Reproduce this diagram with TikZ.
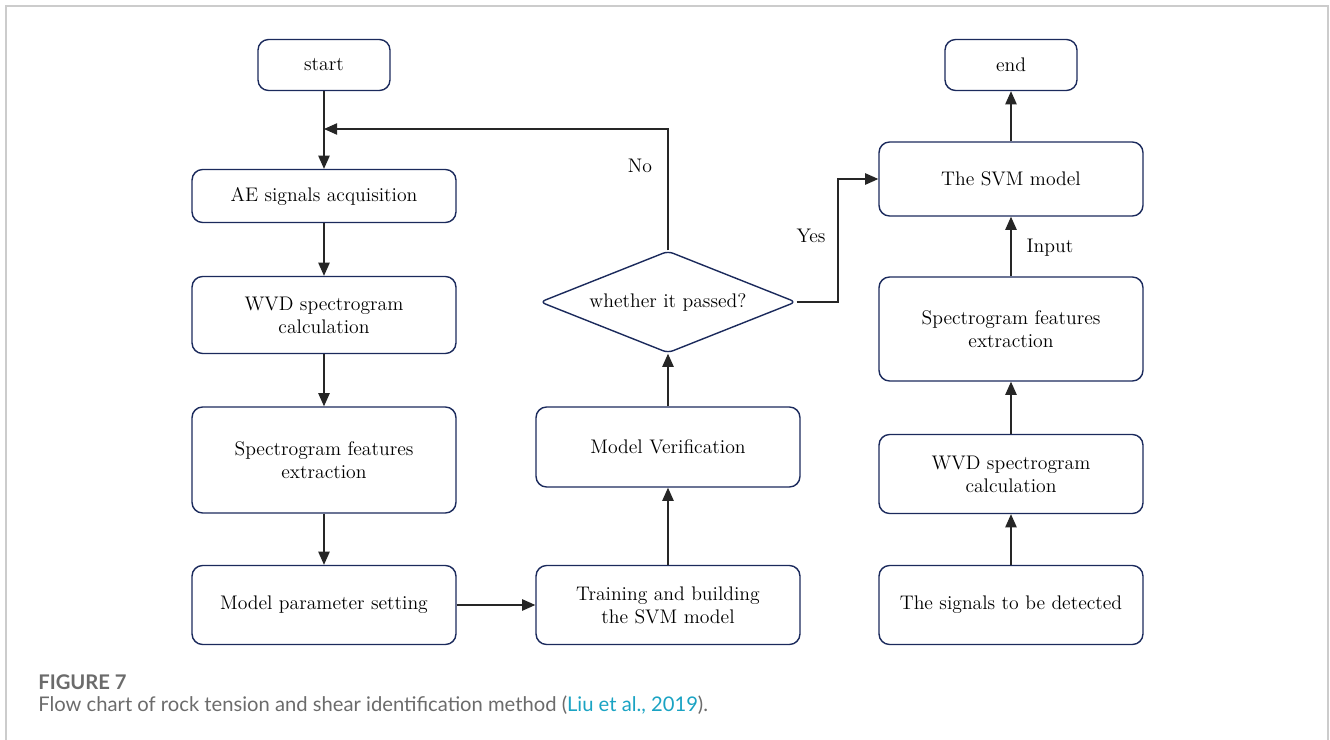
\documentclass[tikz,border=0pt]{standalone}
\usepackage{fontspec}
\usepackage{xcolor}
\usetikzlibrary{arrows.meta,shapes.geometric}
\newfontfamily\capfont{Lato}
\definecolor{boxline}{HTML}{1B2A5C}
\definecolor{capgray}{HTML}{6B6B6B}
\definecolor{citecol}{HTML}{1AA3C3}

\begin{document}
\begin{tikzpicture}[x=0.02cm,y=-0.02cm,
    box/.style={draw=boxline, line width=0.8pt, rounded corners=6pt,
      minimum width=5.28cm, align=center,
      font=\fontsize{11.2}{13}\selectfont},
    check/.style={draw=boxline, line width=0.8pt, diamond, aspect=2.5, rounded corners=3pt,
      inner sep=0pt, minimum width=5.12cm, minimum height=2.04cm,
      font=\fontsize{11.2}{13}\selectfont},
    arr/.style={draw=black!85, line width=0.7pt,
      -{Triangle[length=7.5pt,width=6.5pt]}},
    lbl/.style={font=\fontsize{11.2}{13}\selectfont}]
        \useasboundingbox (0,0) rectangle (1330,740);
        % page frame
        \draw[black!20, line width=0.8pt] (6,740) -- (6,6) -- (1328,6) -- (1328,740);

        % left column
        \node[box, minimum width=2.64cm, minimum height=1.02cm] (start) at (324,65) {start};
        \node[box, minimum height=1.06cm] (acq) at (324,196) {AE signals acquisition};
        \node[box, minimum height=1.54cm] (wvd) at (324,315) {WVD spectrogram\\calculation};
        \node[box, minimum height=2.12cm] (feat) at (324,460) {Spectrogram features\\extraction};
        \node[box, minimum height=1.58cm] (param) at (324,605) {Model parameter setting};

        % middle column
        \node[box, minimum height=1.58cm] (train) at (668,605) {Training and building\\the SVM model};
        \node[box, minimum height=1.60cm] (verif) at (668,447) {Model Verification};
        \node[check] (pass) at (668,302) {whether it passed?};

        % right column
        \node[box, minimum width=2.64cm, minimum height=1.02cm] (end) at (1011,65) {end};
        \node[box, minimum height=1.48cm] (svm) at (1011,179) {The SVM model};
        \node[box, minimum height=2.08cm] (featR) at (1011,329) {Spectrogram features\\extraction};
        \node[box, minimum height=1.58cm] (wvdR) at (1011,474) {WVD spectrogram\\calculation};
        \node[box, minimum height=1.58cm] (sig) at (1011,605) {The signals to be detected};

        \coordinate (merge) at (324,129);
        \coordinate (bend) at (838,0);

        \draw[arr] (start) -- (acq);
        \draw[arr] (acq) -- (wvd);
        \draw[arr] (wvd) -- (feat);
        \draw[arr] (feat) -- (param);
        \draw[arr] (param) -- (train);
        \draw[arr] (train) -- (verif);
        \draw[arr] (verif) -- (pass);
        \draw[arr] (pass.north) |- (merge);
        \draw[arr] (pass.east) -- (pass.east -| bend) |- (svm.west);
        \draw[arr] (sig) -- (wvdR);
        \draw[arr] (wvdR) -- (featR);
        \draw[arr] (featR) -- (svm);
        \draw[arr] (svm) -- (end);

        \node[lbl] (no) at (640,166) {No};
        \node[lbl] (yes) at (811,236) {Yes};
        \node[lbl] (input) at (1050,248) {Input};

        % caption
        \node[anchor=west, inner sep=0pt, text=capgray, font=\capfont\bfseries\fontsize{11.5}{12}\selectfont]
          (fig) at (38,682) {FIGURE 7};
        \node[anchor=west, inner sep=0pt, text=capgray, font=\capfont\fontsize{11.5}{12}\selectfont]
          (cap) at (38,705) {Flow chart of rock tension and shear identification method (\textcolor{citecol}{Liu et al., 2019}).};
      \end{tikzpicture}
\end{document}
